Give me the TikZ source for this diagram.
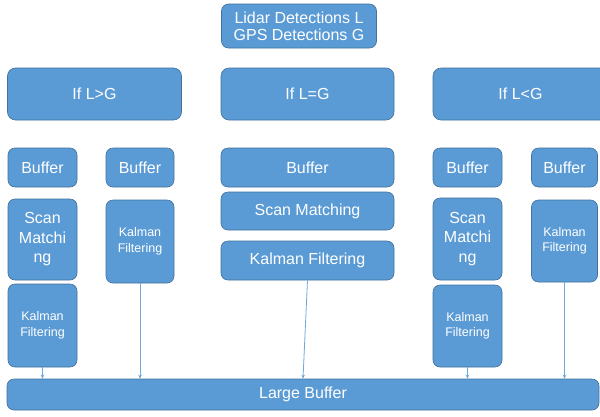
\documentclass[tikz,border=0pt]{standalone}
\usepackage{fontspec}
\setmainfont{Liberation Sans}
\usetikzlibrary{arrows.meta}
\definecolor{boxfill}{HTML}{5B9BD5}
\definecolor{boxline}{HTML}{41719C}
\definecolor{arrowc}{HTML}{6FA8DC}
\begin{document}
\begin{tikzpicture}[x=1pt,y=-1pt,
  box/.style={draw=boxline, line width=0.6pt, fill=boxfill, rounded corners=7pt,
    text=white, inner sep=0pt, align=center,
    font=\fontsize{16}{19.5}\selectfont},
  small/.style={box, font=\fontsize{12.5}{15.5}\selectfont},
  conn/.style={draw=arrowc, line width=0.8pt, -{Stealth[length=4pt,width=3.5pt]}}]
\clip (0,0) rectangle (600,416);
\fill[white] (0,0) rectangle (600,416);
% top
\node[box, font=\fontsize{16}{17}\selectfont, minimum width=155, minimum height=44] (top) at (299,26) {Lidar Detections L\\GPS Detections G};
% condition row
\node[box, rounded corners=8pt, minimum width=174, minimum height=52] (gt) at (94.5,94) {If L>G};
\node[box, rounded corners=8pt, minimum width=173, minimum height=52] (eq) at (307.5,94) {If L=G};
\node[box, rounded corners=8pt, minimum width=175, minimum height=52] (lt) at (520.5,94) {If L<G};
% left group
\node[box, minimum width=69, minimum height=39] (lb1) at (42.5,167.5) {Buffer};
\node[box, minimum width=69, minimum height=81] (lsm) at (42.5,239.5) {Scan\\Matchi\\ng};
\node[small, minimum width=69, minimum height=83] (lk1) at (42.5,325.5) {Kalman\\Filtering};
\node[box, minimum width=68, minimum height=39] (lb2) at (140,167.5) {Buffer};
\node[small, minimum width=68, minimum height=83] (lk2) at (140,241.5) {Kalman\\Filtering};
% middle group
\node[box, minimum width=173, minimum height=39] (mb) at (307.5,167.5) {Buffer};
\node[box, minimum width=173, minimum height=38] (msm) at (307.5,211) {Scan Matching};
\node[box, minimum width=173, minimum height=39] (mk) at (307.5,260.5) {Kalman Filtering};
% right group
\node[box, minimum width=69, minimum height=39] (rb1) at (467.5,167.5) {Buffer};
\node[box, minimum width=69, minimum height=82] (rsm) at (467.5,239) {Scan\\Matchi\\ng};
\node[small, minimum width=69, minimum height=82] (rk1) at (467.5,326) {Kalman\\Filtering};
\node[box, minimum width=66, minimum height=39] (rb2) at (564.5,167.5) {Buffer};
\node[small, minimum width=66, minimum height=82] (rk2) at (564.5,241) {Kalman\\Filtering};
% large buffer
\node[box, font=\fontsize{16}{18}\selectfont, minimum width=592, minimum height=31] (lg) at (303,394.5) {Large Buffer};
% connectors
\draw[conn] (lk1.south) -- (lk1.south |- lg.north);
\draw[conn] (lk2.south) -- (lk2.south |- lg.north);
\draw[conn] (mk.south) -- (lg.north);
\draw[conn] (rk1.south) -- (rk1.south |- lg.north);
\draw[conn] (rk2.south) -- (rk2.south |- lg.north);
\end{tikzpicture}
\end{document}
